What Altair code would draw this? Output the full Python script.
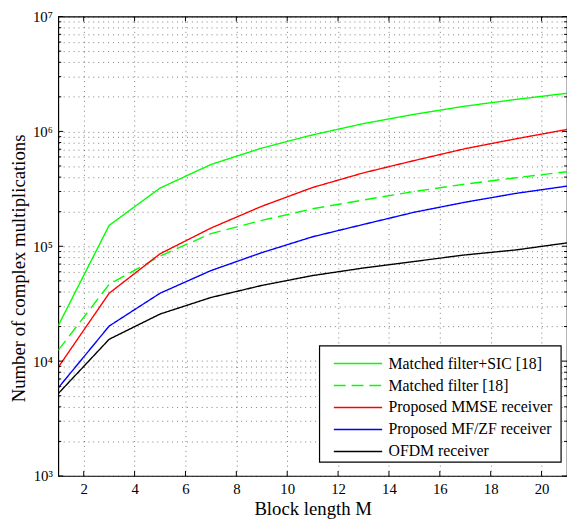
import altair as alt
import pandas as pd

M = [1, 3, 5, 7, 9, 11, 13, 15, 17, 19, 21]
series_names = [
    "Matched filter+SIC [18]",
    "Matched filter [18]",
    "Proposed MMSE receiver",
    "Proposed MF/ZF receiver",
    "OFDM receiver",
]
mf_sic = [20400, 152000, 321000, 515000, 716000, 933000, 1170000, 1410000, 1660000, 1900000, 2150000]
mf = [12450, 46600, 82000, 129000, 168000, 212000, 253000, 300000, 348000, 395000, 446000]
mmse = [8850, 39000, 86000, 144000, 223000, 325000, 436000, 558000, 708000, 863000, 1040000]
mfzf = [5850, 20200, 39000, 61400, 88000, 121000, 155000, 198000, 242000, 289000, 334000]
ofdm = [5220, 15500, 25700, 35800, 45600, 55600, 64700, 73800, 84100, 93000, 107000]

colors = ["#00ff00", "#00ff00", "#ff0000", "#0000ff", "#000000"]
dashes = [[1, 0], [12, 6], [1, 0], [1, 0], [1, 0]]

rows = []
for name, vals in zip(series_names, [mf_sic, mf, mmse, mfzf, ofdm]):
    for m, v in zip(M, vals):
        rows.append({"series": name, "M": m, "value": v})
df = pd.DataFrame(rows)

decades = [10 ** e for e in range(3, 8)]
minor = [k * 10 ** e for e in range(3, 7) for k in range(2, 10)]
y_ticks = sorted(decades + minor)
x_ticks = list(range(2, 21, 2))

W, H = 516, 466
FONT = "Times New Roman, Liberation Serif, Times, serif"

x_scale = alt.Scale(domain=[1, 21], nice=False, zero=False)
y_scale = alt.Scale(type="log", domain=[1000, 10000000], nice=False)

lines = alt.Chart(df).mark_line(strokeWidth=1.4, clip=True).encode(
    x=alt.X("M:Q", scale=x_scale,
            axis=alt.Axis(title="Block length M", values=x_ticks, format="d")),
    y=alt.Y("value:Q", scale=y_scale,
            axis=alt.Axis(title="Number of complex multiplications", values=y_ticks,
                          labelExpr="abs(log(datum.value)/LN10 - round(log(datum.value)/LN10)) < 0.001 ? '10' + ['⁰','¹','²','³','⁴','⁵','⁶','⁷'][round(log(datum.value)/LN10)] : ''")),
    color=alt.Color("series:N", scale=alt.Scale(domain=series_names, range=colors),
                    legend=alt.Legend(title=None)),
    strokeDash=alt.StrokeDash("series:N", scale=alt.Scale(domain=series_names, range=dashes),
                              legend=alt.Legend(title=None)),
    detail="series:N",
)

xt = pd.DataFrame({"M": x_ticks})
yt_major = pd.DataFrame({"value": decades})
yt_minor = pd.DataFrame({"value": minor})

tick_style = dict(color="black", strokeWidth=1)
xb = alt.Chart(xt).mark_rule(**tick_style).encode(x="M:Q", y=alt.value(H), y2=alt.value(H - 5))
xtp = alt.Chart(xt).mark_rule(**tick_style).encode(x="M:Q", y=alt.value(0), y2=alt.value(5))
yl = alt.Chart(yt_major).mark_rule(**tick_style).encode(y="value:Q", x=alt.value(0), x2=alt.value(5))
yr = alt.Chart(yt_major).mark_rule(**tick_style).encode(y="value:Q", x=alt.value(W), x2=alt.value(W - 5))
yml = alt.Chart(yt_minor).mark_rule(**tick_style).encode(y="value:Q", x=alt.value(0), x2=alt.value(3))
ymr = alt.Chart(yt_minor).mark_rule(**tick_style).encode(y="value:Q", x=alt.value(W), x2=alt.value(W - 3))

# legend frame (white box with black border behind the legend entries)
legend_box = alt.Chart(pd.DataFrame({"k": [0]})).mark_rect(
    fill="white", stroke="black", strokeWidth=1.2
).encode(x=alt.value(265), x2=alt.value(510), y=alt.value(334), y2=alt.value(452))

chart = alt.layer(lines, xb, xtp, yl, yr, yml, ymr, legend_box).properties(
    width=W, height=H,
    autosize=alt.AutoSizeParams(type="none"),
    padding={"left": 51, "top": 5, "right": 0, "bottom": 44},
).configure_view(
    stroke="black", strokeWidth=1.2
).configure_axis(
    labelFont=FONT, titleFont=FONT, labelFontSize=15, titleFontSize=19,
    titleFontWeight="normal", labelColor="black", titleColor="black",
    domain=False, tickSize=0, labelPadding=6,
    grid=True, gridColor="black", gridDash=[1, 4], gridOpacity=0.65, gridWidth=0.8,
).configure_axisY(
    titlePadding=4, labelAlign="right", titleY=255
).configure_axisX(
    titlePadding=3
).configure_legend(
    orient="none", legendX=287, legendY=335,
    labelFont=FONT, labelFontSize=16, labelColor="black", labelLimit=320,
    strokeColor="transparent", fillColor="transparent", padding=9, cornerRadius=0,
    symbolType="M-4.9,0H4.9", symbolSize=100, symbolStrokeWidth=1.5,
    rowPadding=6.3, labelOffset=23, offset=0,
)

chart.save("out.html", embed_options={"renderer": "svg", "actions": False})
